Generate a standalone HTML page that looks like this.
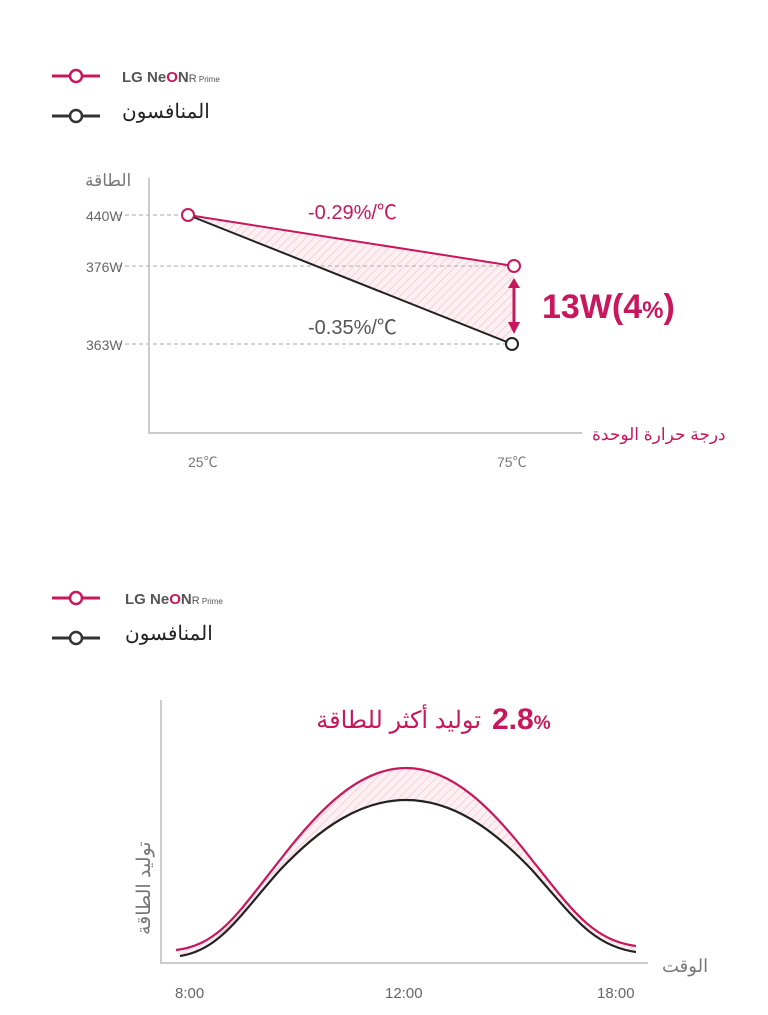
<!DOCTYPE html>
<html><head><meta charset="utf-8"><style>
body{margin:0;background:#fff;width:768px;height:1015px;overflow:hidden}
svg{display:block}
text{font-family:"Liberation Sans","Noto Sans CJK SC",sans-serif}
</style></head><body>
<svg width="768" height="1015" viewBox="0 0 768 1015">
<defs>
<pattern id="h" width="6" height="6" patternUnits="userSpaceOnUse" patternTransform="rotate(45)">
<rect width="6" height="6" fill="#fdf0f3"/><line x1="0" y1="0" x2="0" y2="6" stroke="#f3c6d3" stroke-width="1.5"/></pattern>
</defs>
<line x1="52" y1="76" x2="100" y2="76" stroke="#c8175d" stroke-width="3"/>
<circle cx="76" cy="76" r="6" fill="#fff" stroke="#c8175d" stroke-width="2.5"/>
<text x="122" y="82" font-size="15" font-weight="bold" fill="#555">LG Ne<tspan fill="#c8175d">O</tspan>N<tspan font-size="11" font-weight="normal">R</tspan><tspan font-size="8" font-weight="normal"> Prime</tspan></text>
<line x1="52" y1="116" x2="100" y2="116" stroke="#333" stroke-width="3"/>
<circle cx="76" cy="116" r="6" fill="#fff" stroke="#333" stroke-width="2.5"/>
<text x="122" y="118" font-size="20" fill="#222">المنافسون</text>
<line x1="149" y1="178" x2="149" y2="434" stroke="#ccc" stroke-width="2"/>
<line x1="148" y1="433" x2="582" y2="433" stroke="#ccc" stroke-width="2"/>
<text x="85" y="186" font-size="17" fill="#777">الطاقة</text>
<polygon points="188,215 514,266 512,344" fill="url(#h)"/>
<g stroke="#bbb" stroke-dasharray="4,3" stroke-width="1.2">
<line x1="118" y1="215" x2="188" y2="215"/><line x1="118" y1="266" x2="514" y2="266"/><line x1="118" y1="344" x2="512" y2="344"/></g>
<g font-size="14" fill="#666"><text x="86" y="221">440W</text><text x="86" y="272">376W</text><text x="86" y="350">363W</text></g>
<line x1="188" y1="215" x2="512" y2="344" stroke="#222" stroke-width="2"/>
<line x1="188" y1="215" x2="514" y2="266" stroke="#c8175d" stroke-width="2"/>
<circle cx="188" cy="215" r="6" fill="#fff" stroke="#c8175d" stroke-width="2"/>
<circle cx="514" cy="266" r="6" fill="#fff" stroke="#c8175d" stroke-width="2"/>
<circle cx="512" cy="344" r="6" fill="#fff" stroke="#222" stroke-width="2"/>
<line x1="514" y1="286" x2="514" y2="324" stroke="#c8175d" stroke-width="3"/>
<polygon points="508,288 520,288 514,278" fill="#c8175d"/><polygon points="508,322 520,322 514,334" fill="#c8175d"/>
<text x="308" y="219" font-size="20" fill="#c8175d">-0.29%/℃</text>
<text x="308" y="334" font-size="20" fill="#555">-0.35%/℃</text>
<text x="542" y="318" font-size="34" font-weight="bold" fill="#c8175d">13W(4<tspan font-size="24">%</tspan>)</text>
<text x="592" y="440" font-size="17" fill="#c8175d">درجة حرارة الوحدة</text>
<g font-size="14" fill="#777"><text x="188" y="467">25℃</text><text x="497" y="467">75℃</text></g>
<line x1="52" y1="598" x2="100" y2="598" stroke="#c8175d" stroke-width="3"/>
<circle cx="76" cy="598" r="6" fill="#fff" stroke="#c8175d" stroke-width="2.5"/>
<text x="125" y="604" font-size="15" font-weight="bold" fill="#555">LG Ne<tspan fill="#c8175d">O</tspan>N<tspan font-size="11" font-weight="normal">R</tspan><tspan font-size="8" font-weight="normal"> Prime</tspan></text>
<line x1="52" y1="638" x2="100" y2="638" stroke="#333" stroke-width="3"/>
<circle cx="76" cy="638" r="6" fill="#fff" stroke="#333" stroke-width="2.5"/>
<text x="125" y="640" font-size="20" fill="#222">المنافسون</text>
<line x1="161" y1="700" x2="161" y2="964" stroke="#ccc" stroke-width="2"/>
<line x1="160" y1="963" x2="648" y2="963" stroke="#ccc" stroke-width="2"/>
<path d="M176,950 C220,945 240,910 280,860 C320,808 360,768 406,768 C452,768 492,808 532,860 C572,910 592,940 636,946 L636,952 C592,946 572,915 532,870 C492,828 452,800 406,800 C360,800 320,828 280,870 C240,915 220,950 180,956 Z" fill="url(#h)"/>
<path d="M180,956 C220,950 240,915 280,870 C320,828 360,800 406,800 C452,800 492,828 532,870 C572,915 592,946 636,952" fill="none" stroke="#222" stroke-width="2.2"/>
<path d="M176,950 C220,945 240,910 280,860 C320,808 360,768 406,768 C452,768 492,808 532,860 C572,910 592,940 636,946" fill="none" stroke="#c8175d" stroke-width="2.2"/>
<text x="481" y="728" font-size="24" fill="#c8175d" text-anchor="end">توليد أكثر للطاقة</text>
<text x="492" y="729" font-size="30" font-weight="bold" fill="#c8175d">2.8<tspan font-size="19">%</tspan></text>
<text transform="translate(150,935) rotate(-90)" font-size="19" fill="#777">توليد الطاقة</text>
<text x="662" y="972" font-size="18" fill="#777">الوقت</text>
<g font-size="15" fill="#666"><text x="175" y="998">8:00</text><text x="385" y="998">12:00</text><text x="597" y="998">18:00</text></g>
</svg>
</body></html>
